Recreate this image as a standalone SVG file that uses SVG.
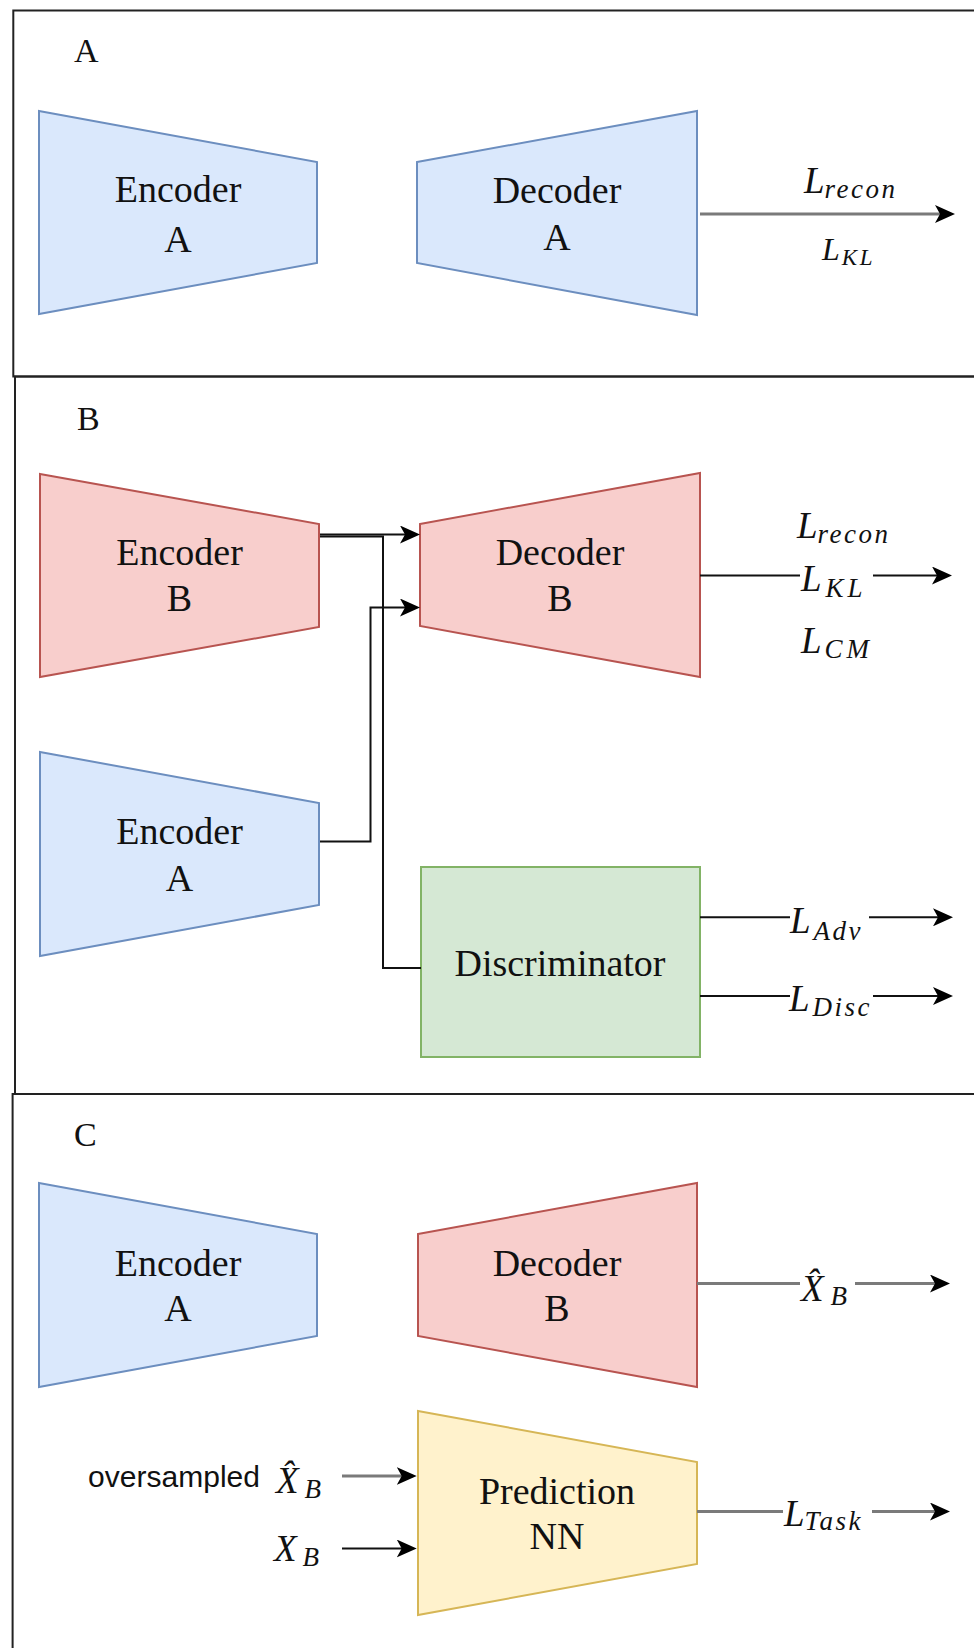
<svg xmlns="http://www.w3.org/2000/svg" width="974" height="1648" viewBox="0 0 974 1648">
<style>
.panel{fill:none;stroke:#222;stroke-width:2}
.plbl{font-family:"Liberation Serif",serif;font-size:34px;fill:#111}
.blue{fill:#dae8fc;stroke:#6c8ebf;stroke-width:2}
.red{fill:#f8cecc;stroke:#b85450;stroke-width:2}
.green{fill:#d5e8d4;stroke:#82b366;stroke-width:2}
.yellow{fill:#fff2cc;stroke:#d6b656;stroke-width:2}
.nt{font-family:"Liberation Serif",serif;font-size:38px;fill:#111;text-anchor:middle}
.m{font-family:"Liberation Serif",serif;font-style:italic;font-size:37px;fill:#111}
.ms{font-size:27px;letter-spacing:2.5px}
.wide{letter-spacing:4px}
.ma{font-family:"Liberation Serif",serif;font-style:italic;font-size:32px;fill:#111}
.mas{font-size:23px;letter-spacing:2.5px}
.sans{font-family:"Liberation Sans",Arial,sans-serif;font-size:30px;fill:#111}
.blk{fill:none;stroke:#111;stroke-width:2}
.gry{fill:none;stroke:#7a7a7a;stroke-width:3}
</style>
<defs>
<marker id="arr" markerUnits="userSpaceOnUse" viewBox="0 0 20 18" markerWidth="20" markerHeight="18" refX="16" refY="9" orient="auto">
<path d="M0,0 L20,9 L0,18 L5,9 z" fill="#000"/>
</marker>
</defs>
<rect x="0" y="0" width="974" height="1648" fill="#fff"/>
<g id="panels">
<rect class="panel" x="13.3" y="10.5" width="980" height="366"/>
<rect class="panel" x="15" y="376.5" width="980" height="717.5"/>
<rect class="panel" x="12.6" y="1094" width="980" height="600"/>
<text class="plbl" x="74" y="62">A</text>
<text class="plbl" x="77" y="430">B</text>
<text class="plbl" x="74" y="1146">C</text>
</g>
<g id="encoderA1">
<polygon class="blue" points="39,111 317,162 317,263 39,314"/>
<text class="nt" x="178" y="202">Encoder</text>
<text class="nt" x="178" y="252">A</text>
</g>
<g id="decoderA1">
<polygon class="blue" points="417,162 697,111 697,315 417,263"/>
<text class="nt" x="557" y="203">Decoder</text>
<text class="nt" x="557" y="250">A</text>
</g>
<g id="encoderB">
<polygon class="red" points="40,474 319,524 319,627 40,677"/>
<text class="nt" x="179.5" y="565">Encoder</text>
<text class="nt" x="179.5" y="611">B</text>
</g>
<g id="decoderB">
<polygon class="red" points="420,524 700,473 700,677 420,626"/>
<text class="nt" x="560" y="565">Decoder</text>
<text class="nt" x="560" y="611">B</text>
</g>
<g id="encoderA2">
<polygon class="blue" points="40,752 319,803 319,905 40,956"/>
<text class="nt" x="179.5" y="844">Encoder</text>
<text class="nt" x="179.5" y="891">A</text>
</g>
<g id="discriminator">
<rect class="green" x="421" y="867" width="279" height="190"/>
<text class="nt" x="560" y="976">Discriminator</text>
</g>
<g id="encoderA3">
<polygon class="blue" points="39,1183 317,1234 317,1336 39,1387"/>
<text class="nt" x="178" y="1276">Encoder</text>
<text class="nt" x="178" y="1321">A</text>
</g>
<g id="decoderB2">
<polygon class="red" points="418,1234 697,1183 697,1387 418,1336"/>
<text class="nt" x="557" y="1276">Decoder</text>
<text class="nt" x="557" y="1321">B</text>
</g>
<g id="predictionNN">
<polygon class="yellow" points="418,1411 697,1462 697,1564 418,1615"/>
<text class="nt" x="557" y="1504">Prediction</text>
<text class="nt" x="557" y="1549">NN</text>
</g>
<g id="connectors">
<path class="gry" d="M700,214 H951" marker-end="url(#arr)"/>
<path class="blk" d="M320,534.5 H416" marker-end="url(#arr)"/>
<path class="blk" d="M320,536.5 H383 V968 H421"/>
<path class="blk" d="M320,841.5 H370.5 V607.5 H416" marker-end="url(#arr)"/>
<path class="blk" d="M700,575.5 H800"/>
<path class="blk" d="M873,575.5 H948" marker-end="url(#arr)"/>
<path class="blk" d="M700,917.3 H790"/>
<path class="blk" d="M869,917.3 H949" marker-end="url(#arr)"/>
<path class="blk" d="M700,996 H790"/>
<path class="blk" d="M873,996 H949" marker-end="url(#arr)"/>
<path class="gry" d="M697,1283.5 H800"/>
<path class="gry" d="M855,1283.5 H946" marker-end="url(#arr)"/>
<path class="gry" d="M697,1511.5 H783"/>
<path class="gry" d="M872,1511.5 H946" marker-end="url(#arr)"/>
<path class="gry" d="M342,1476 H412.7" marker-end="url(#arr)"/>
<path class="blk" d="M342,1548.5 H412.7" marker-end="url(#arr)"/>
</g>
<g id="labels">
<text class="m" x="804" y="193">L<tspan class="ms" dy="5">recon</tspan></text>
<text class="ma" x="822" y="260">L<tspan class="mas" dx="2" dy="5">KL</tspan></text>
<text class="m" x="797" y="538">L<tspan class="ms" dy="5">recon</tspan></text>
<text class="m" x="801" y="591">L<tspan class="ms wide" dx="4" dy="6">KL</tspan></text>
<text class="m" x="801" y="653">L<tspan class="ms wide" dx="3" dy="5">CM</tspan></text>
<text class="m" x="790" y="933">L<tspan class="ms" dx="3" dy="7">Adv</tspan></text>
<text class="m" x="789" y="1011">L<tspan class="ms" dx="3" dy="5">Disc</tspan></text>
<text class="m" x="801" y="1301">X&#x302;<tspan class="ms" dx="7" dy="4">B</tspan></text>
<text class="m" x="784" y="1526">L<tspan class="ms" dy="4">Task</tspan></text>
<text class="sans" x="88" y="1487" textLength="172" lengthAdjust="spacing">oversampled</text>
<text class="m" x="276" y="1493">X&#x302;<tspan class="ms" dx="6" dy="5">B</tspan></text>
<text class="m" x="274" y="1561">X<tspan class="ms" dx="6" dy="5">B</tspan></text>
</g>
</svg>
